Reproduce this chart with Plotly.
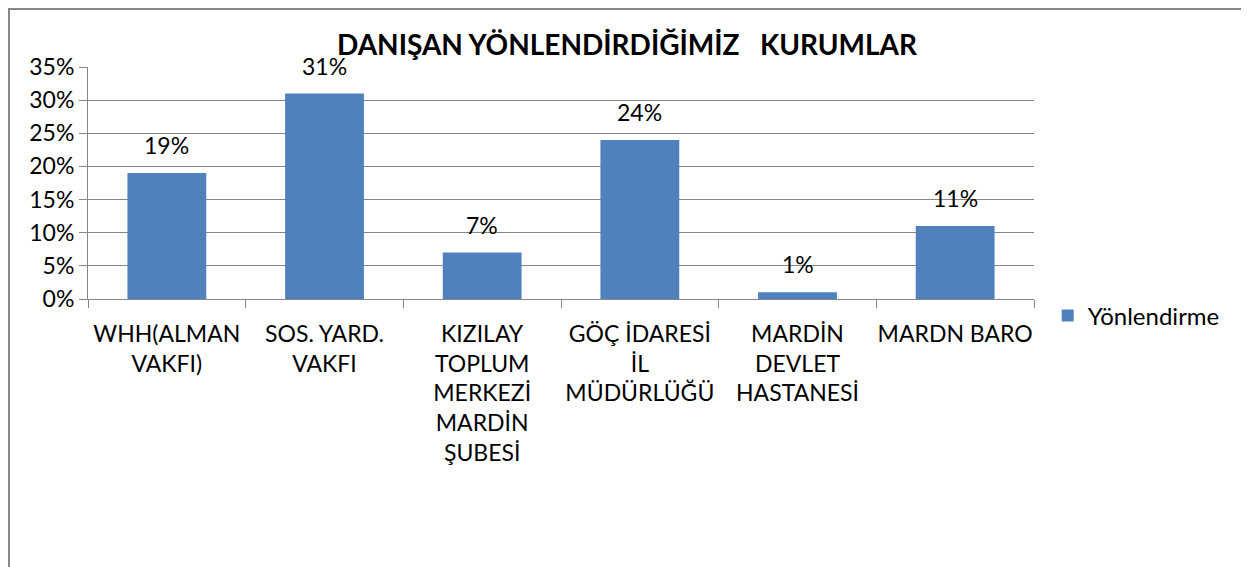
import plotly.graph_objects as go

categories = [
    "WHH(ALMAN<br>VAKFI)",
    "SOS. YARD.<br>VAKFI",
    "KIZILAY<br>TOPLUM<br>MERKEZİ<br>MARDİN<br>ŞUBESİ",
    "GÖÇ İDARESİ<br>İL<br>MÜDÜRLÜĞÜ",
    "MARDİN<br>DEVLET<br>HASTANESİ",
    "MARDN BARO",
]
values = [0.19, 0.31, 0.07, 0.24, 0.01, 0.11]
value_labels = ["19%", "31%", "7%", "24%", "1%", "11%"]
series_name = "Yönlendirme"
title_text = "DANIŞAN YÖNLENDİRDİĞİMİZ\u00a0\u00a0\u00a0KURUMLAR"
y_tickvals = [0, 0.05, 0.10, 0.15, 0.20, 0.25, 0.30, 0.35]
y_ticktext = ["0%", "5%", "10%", "15%", "20%", "25%", "30%", "35%"]

FONT = "Lato, Carlito, Calibri, sans-serif"
GRID = "#868686"

# page body has an 8px margin; figure sized to fit the window without overflow
W, H = 1241, 559
PL, PT, PW, PH = 80, 59, 946, 232

fig = go.Figure()
fig.add_trace(go.Bar(
    x=categories, y=values, name=series_name,
    marker=dict(color="#4F81BD", line=dict(width=0)),
    width=0.5, showlegend=True,
))

for c, v, t in zip(categories, values, value_labels):
    fig.add_annotation(x=c, y=v, text=t, showarrow=False, yshift=28,
                       font=dict(family=FONT, size=23, color="#000000"))

fig.update_layout(
    width=W, height=H,
    margin=dict(l=PL, r=W - PL - PW, t=PT, b=H - PT - PH, autoexpand=False),
    paper_bgcolor="white", plot_bgcolor="white",
    font=dict(family=FONT, size=23, color="#000000"),
    title=dict(text="<b>" + title_text + "</b>", x=619 / W, xanchor="center",
               y=1 - 37 / H, yanchor="middle",
               font=dict(family=FONT, size=28, color="#000000")),
    showlegend=True,
    legend=dict(x=1.0145, y=-0.073, xanchor="left", yanchor="middle",
                font=dict(family=FONT, size=24, color="#000000"),
                bgcolor="rgba(0,0,0,0)"),
    bargap=0.5,
)

fig.update_xaxes(
    type="category", showline=True, linecolor=GRID, linewidth=1,
    ticks="outside", tickson="boundaries", ticklen=8, tickcolor=GRID,
    showgrid=False, tickangle=0, ticklabelstandoff=14,
    tickfont=dict(family=FONT, size=23),
)
fig.update_yaxes(
    range=[0, 0.35], tickvals=y_tickvals, ticktext=y_ticktext,
    showline=True, linecolor=GRID, linewidth=1,
    ticks="outside", ticklen=8, tickcolor=GRID,
    showgrid=True, gridcolor=GRID, gridwidth=1, zeroline=False,
    tickfont=dict(family=FONT, size=23),
)

# chart area border (figure pixel coords converted to paper fractions)
fig.add_shape(type="rect", xref="paper", yref="paper",
              x0=(1 - PL) / PW, x1=(1236 - PL) / PW,
              y0=-2.0, y1=(PT + PH - 1) / PH,
              line=dict(color="#888888", width=2), fillcolor="rgba(0,0,0,0)",
              layer="below")

fig.write_html("out.html")
